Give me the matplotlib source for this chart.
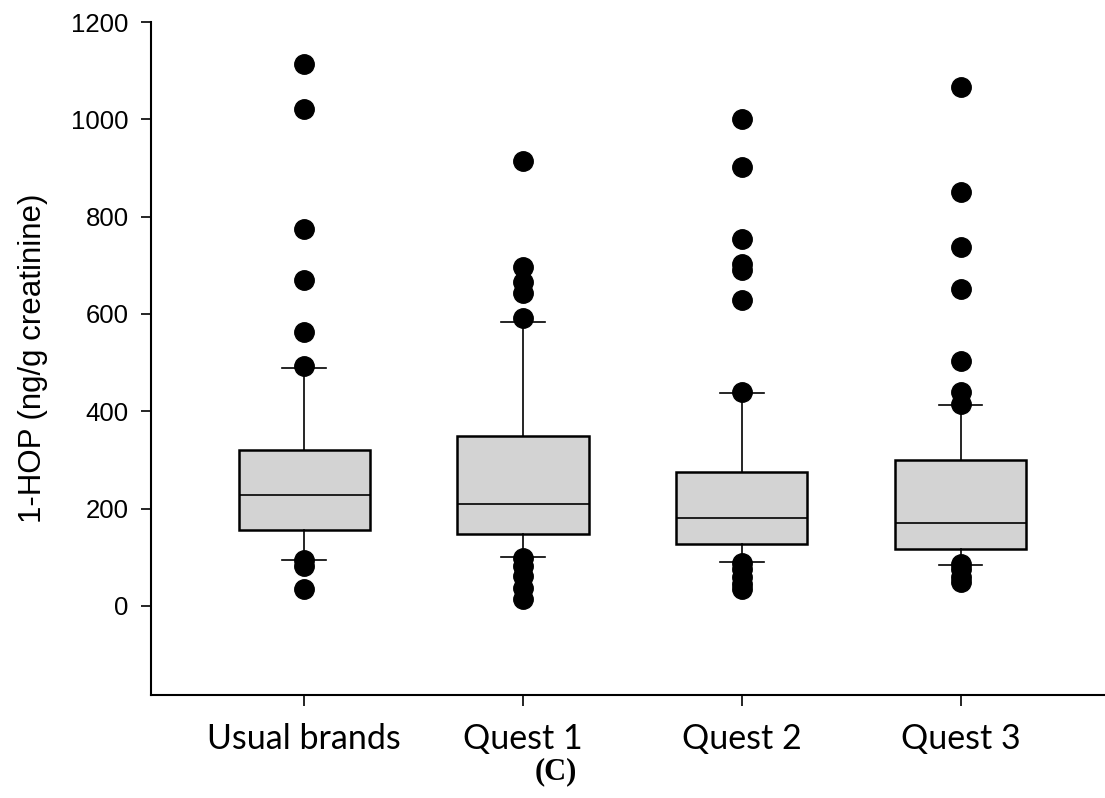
import matplotlib
matplotlib.use("Agg")
import matplotlib.pyplot as plt

categories = ["Usual brands", "Quest 1", "Quest 2", "Quest 3"]
medians = [228, 210, 180, 171]
q1 = [157, 147, 128, 117]
q3 = [321, 349, 276, 299]
whisker_low = [94, 100, 90, 84]
whisker_high = [489, 583, 437, 412]
outliers = [
    [1113, 1021, 775, 670, 562, 494, 95, 82, 35],
    [915, 696, 666, 643, 591, 98, 82, 62, 36, 15],
    [1000, 902, 754, 702, 690, 629, 439, 88, 75, 60, 45, 35],
    [1067, 850, 737, 652, 504, 439, 414, 86, 75, 60, 50],
]
y_ticks = [0, 200, 400, 600, 800, 1000, 1200]
y_label = "1-HOP (ng/g creatinine)"
panel_label = "(C)"

stats = []
for i, name in enumerate(categories):
    stats.append(dict(label=name, med=medians[i], q1=q1[i], q3=q3[i],
                      whislo=whisker_low[i], whishi=whisker_high[i],
                      fliers=outliers[i]))

fig = plt.figure(figsize=(11.05, 7.98), dpi=100)
ax = fig.add_axes([151 / 1105, 103 / 798, 1 - 151 / 1105, (695 - 22) / 798])

positions = [1, 2, 3, 4]
ax.bxp(stats, positions=positions, widths=0.6, patch_artist=True,
       boxprops=dict(facecolor="#d3d3d3", edgecolor="black", linewidth=1.8),
       medianprops=dict(color="black", linewidth=1.2),
       whiskerprops=dict(color="black", linewidth=1.2),
       capprops=dict(color="black", linewidth=1.2),
       capwidths=0.2,
       flierprops=dict(marker="o", markerfacecolor="black",
                       markeredgecolor="black", markersize=14, linestyle="none"),
       manage_ticks=False)

ax.set_xlim(0.30, 4.66)
ax.set_ylim(-183, 1200)
ax.set_yticks(y_ticks)
ax.set_yticklabels([str(v) for v in y_ticks], fontsize=18.5, family="Liberation Sans")
ax.set_xticks(positions)
ax.set_xticklabels(categories, fontsize=24.5, family="Lato")
ax.tick_params(axis="y", direction="out", length=7, width=1.2, pad=9)
ax.tick_params(axis="x", direction="out", length=8, width=1.2, pad=12)
ax.spines["top"].set_visible(False)
ax.spines["right"].set_visible(False)
ax.spines["left"].set_linewidth(1.5)
ax.spines["bottom"].set_linewidth(1.5)
ax.set_ylabel(y_label, fontsize=22.5, family="Liberation Sans", labelpad=17)

fig.text(556 / 1105, 1 - 772 / 798, panel_label, ha="center", va="center",
         fontsize=22, fontweight="bold", family="Liberation Serif")

fig.savefig("out.png", dpi=100)
